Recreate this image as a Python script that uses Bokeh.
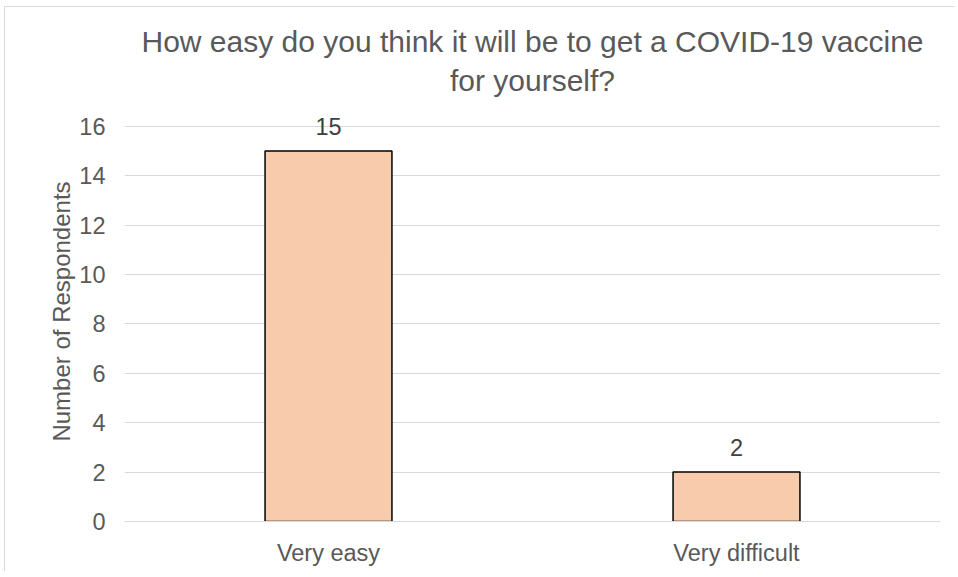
from bokeh.plotting import figure
from bokeh.models import ColumnDataSource, LabelSet, Range1d, FixedTicker, Title
from bokeh.core.properties import value
from bokeh.embed import file_html
from bokeh.resources import INLINE

categories = ["Very easy", "Very difficult"]
counts = [15, 2]
y_ticks = [0, 2, 4, 6, 8, 10, 12, 14, 16]
title_lines = ["How easy do you think it will be to get a COVID-19 vaccine", "for yourself?"]

source = ColumnDataSource(data=dict(cat=categories, val=counts, lbl=[str(c) for c in counts]))

FONT = "Liberation Sans"
SMALL = "23.5px"
GREY = "#595959"

p = figure(
    x_range=categories,
    y_range=Range1d(0, 17),
    width=950, height=565,
    output_backend="svg", toolbar_location=None,
    min_border_left=119, min_border_right=15, min_border_bottom=51, min_border_top=94,
)
p.styles = {"border-left": "1px solid #d9d9d9", "border-top": "1px solid #d9d9d9",
            "margin-left": "4px", "margin-top": "6px"}

p.title.visible = False
p.add_layout(Title(text=title_lines[1], align="center", text_font=FONT, text_font_size="30px",
                   text_font_style="normal", text_color=GREY), "above")
p.add_layout(Title(text=title_lines[0], align="center", text_font=FONT, text_font_size="30px",
                   text_font_style="normal", text_color=GREY, standoff=-2), "above")

p.vbar(x="cat", top="val", width=0.311, source=source,
       fill_color="#F8CBAD", line_color="#000000", line_width=1.5)

labels = LabelSet(x="cat", y="val", text="lbl", source=source,
                  text_align="center", text_baseline="alphabetic", y_offset=16,
                  text_font=value(FONT), text_font_size=value(SMALL), text_color="#404040")
p.add_layout(labels)

p.outline_line_color = None
p.background_fill_color = "white"
p.border_fill_color = "white"

p.xgrid.grid_line_color = None
p.ygrid.grid_line_color = "#d9d9d9"
p.ygrid.grid_line_width = 1
p.yaxis.ticker = FixedTicker(ticks=y_ticks)

p.yaxis.axis_line_color = None
p.yaxis.major_tick_line_color = None
p.yaxis.minor_tick_line_color = None
p.yaxis.major_tick_out = 0
p.yaxis.major_tick_in = 0
p.yaxis.major_label_text_font = FONT
p.yaxis.major_label_text_font_size = SMALL
p.yaxis.major_label_text_color = GREY
p.yaxis.major_label_standoff = 19
p.yaxis.axis_label = "Number of Respondents"
p.yaxis.axis_label_text_font = FONT
p.yaxis.axis_label_text_font_size = "24px"
p.yaxis.axis_label_text_font_style = "normal"
p.yaxis.axis_label_text_color = GREY
p.yaxis.axis_label_standoff = 1

p.xaxis.axis_line_color = "#d9d9d9"
p.xaxis.axis_line_width = 1
p.xaxis.major_tick_line_color = None
p.xaxis.minor_tick_line_color = None
p.xaxis.major_tick_out = 0
p.xaxis.major_tick_in = 0
p.xaxis.major_label_text_font = FONT
p.xaxis.major_label_text_font_size = SMALL
p.xaxis.major_label_text_color = GREY
p.xaxis.major_label_standoff = 18

p.x_range.range_padding = 0

open("out.html", "w").write(file_html(p, INLINE))
